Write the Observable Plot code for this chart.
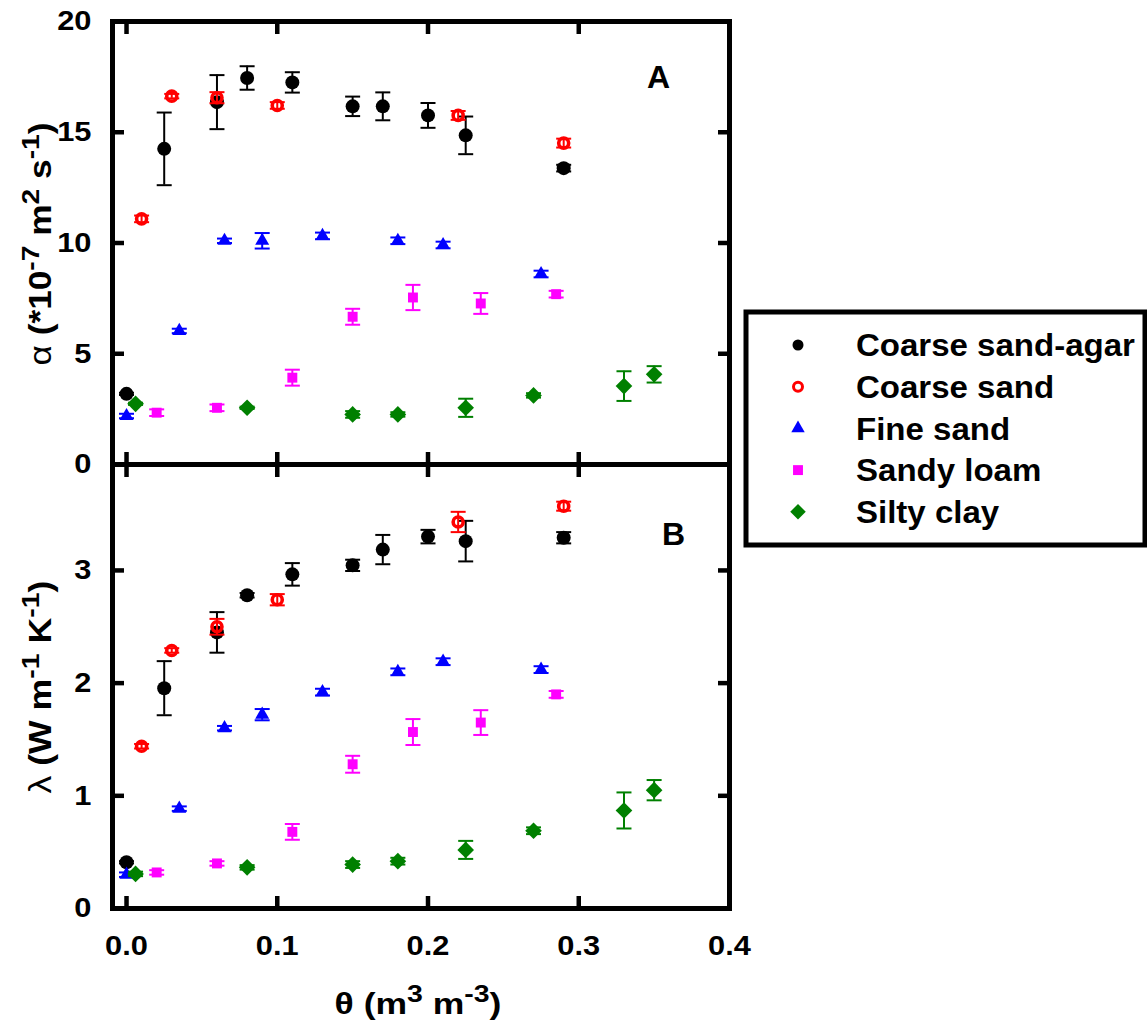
<!DOCTYPE html>
<html><head><meta charset="utf-8">
<script src="https://cdn.jsdelivr.net/npm/d3@7"></script>
<script src="https://cdn.jsdelivr.net/npm/@observablehq/plot@0.6"></script>
<style>
body{margin:0;background:#fff;}
#wrap{position:relative;width:1147px;height:1020px;overflow:hidden;font-family:"Liberation Sans",Arial,sans-serif;background:#fff;}
#wrap svg{position:absolute;overflow:visible;}
</style></head><body><div id="wrap"></div>
<script>
// ---- data ----
const seriesNames = ["Coarse sand-agar", "Coarse sand", "Fine sand", "Sandy loam", "Silty clay"];
const seriesColors = ["#000000", "#ff0000", "#0000ff", "#ff00ff", "#008000"];
const seriesSymbols = ["circle", "circle", "triangle", "square", "diamond2"];
const seriesFilled = [true, false, true, true, true];

// Coarse sand-agar
const agarTheta = [0, 0.025, 0.06, 0.08, 0.11, 0.15, 0.17, 0.2, 0.225, 0.29];
const agarAlpha = [3.19, 14.25, 16.36, 17.45, 17.25, 16.17, 16.17, 15.76, 14.86, 13.38];
const agarAlphaErr = [0.05, 1.64, 1.22, 0.53, 0.46, 0.44, 0.63, 0.56, 0.85, 0.15];
const agarLambda = [0.41, 1.955, 2.45, 2.78, 2.965, 3.045, 3.185, 3.30, 3.26, 3.29];
const agarLambdaErr = [0.01, 0.24, 0.18, 0.02, 0.10, 0.05, 0.13, 0.06, 0.18, 0.05];
// Coarse sand
const coarseTheta = [0.01, 0.03, 0.06, 0.1, 0.22, 0.29];
const coarseAlpha = [11.09, 16.63, 16.56, 16.21, 15.76, 14.51];
const coarseAlphaErr = [0.15, 0.1, 0.25, 0.15, 0.2, 0.2];
const coarseLambda = [1.44, 2.29, 2.50, 2.74, 3.43, 3.57];
const coarseLambdaErr = [0.02, 0.02, 0.07, 0.05, 0.09, 0.04];
// Fine sand
const fineTheta = [0, 0.035, 0.065, 0.09, 0.13, 0.18, 0.21, 0.275];
const fineAlpha = [2.19, 6.03, 10.1, 10.1, 10.32, 10.1, 9.91, 8.6];
const fineAlphaErr = [0.1, 0.1, 0.1, 0.35, 0.15, 0.15, 0.15, 0.15];
const fineLambda = [0.30, 0.886, 1.60, 1.72, 1.92, 2.10, 2.19, 2.12];
const fineLambdaErr = [0.02, 0.02, 0.02, 0.05, 0.03, 0.03, 0.03, 0.03];
// Sandy loam
const loamTheta = [0.02, 0.06, 0.11, 0.15, 0.19, 0.235, 0.285];
const loamAlpha = [2.34, 2.56, 3.92, 6.67, 7.54, 7.27, 7.69];
const loamAlphaErr = [0.15, 0.15, 0.36, 0.36, 0.57, 0.47, 0.15];
const loamLambda = [0.32, 0.40, 0.68, 1.28, 1.566, 1.65, 1.90];
const loamLambdaErr = [0.02, 0.02, 0.07, 0.075, 0.115, 0.11, 0.03];
// Silty clay
const clayTheta = [0.006, 0.08, 0.15, 0.18, 0.225, 0.27, 0.33, 0.35];
const clayAlpha = [2.74, 2.56, 2.26, 2.26, 2.56, 3.12, 3.54, 4.07];
const clayAlphaErr = [0.05, 0.05, 0.15, 0.1, 0.41, 0.1, 0.67, 0.37];
const clayLambda = [0.307, 0.365, 0.39, 0.42, 0.52, 0.69, 0.87, 1.05];
const clayLambdaErr = [0.02, 0.02, 0.03, 0.03, 0.08, 0.03, 0.16, 0.09];

const xTicks = [0, 0.1, 0.2, 0.3];
const xTickLabels = [0, 0.1, 0.2, 0.3, 0.4];
const xDomain = [-0.0093, 0.4];
const alphaTicks = [0, 5, 10, 15, 20];
const alphaDomain = [0, 20];
const lambdaTicks = [0, 1, 2, 3];
const lambdaDomain = [0, 3.94];

// ---- build tables ----
function rows(name, theta, val, err) {
  return theta.map((t, i) => ({name, theta: t, v: val[i], lo: val[i] - err[i], hi: val[i] + err[i]}));
}
const alphaRows = [
  ...rows(seriesNames[0], agarTheta, agarAlpha, agarAlphaErr),
  ...rows(seriesNames[1], coarseTheta, coarseAlpha, coarseAlphaErr),
  ...rows(seriesNames[2], fineTheta, fineAlpha, fineAlphaErr),
  ...rows(seriesNames[3], loamTheta, loamAlpha, loamAlphaErr),
  ...rows(seriesNames[4], clayTheta, clayAlpha, clayAlphaErr)
];
const lambdaRows = [
  ...rows(seriesNames[0], agarTheta, agarLambda, agarLambdaErr),
  ...rows(seriesNames[1], coarseTheta, coarseLambda, coarseLambdaErr),
  ...rows(seriesNames[2], fineTheta, fineLambda, fineLambdaErr),
  ...rows(seriesNames[3], loamTheta, loamLambda, loamLambdaErr),
  ...rows(seriesNames[4], clayTheta, clayLambda, clayLambdaErr)
];

const markerR = [7, 5, 5.2, 5.6, 7.5];
const capSymbol = {draw(ctx, size) { const w = Math.sqrt(size / Math.PI); ctx.moveTo(-w, 0); ctx.lineTo(w, 0); }};

function seriesMarks(data) {
  const marks = [];
  seriesNames.forEach((s, i) => {
    const d = data.filter(r => r.name === s);
    const c = seriesColors[i];
    marks.push(Plot.dot(d, seriesFilled[i]
      ? {x: "theta", y: "v", symbol: seriesSymbols[i], r: markerR[i], fill: c, stroke: "none"}
      : {x: "theta", y: "v", symbol: seriesSymbols[i], r: markerR[i], fill: "none", stroke: c, strokeWidth: 3.6}));
    marks.push(Plot.ruleX(d, {x: "theta", y1: "lo", y2: "hi", stroke: c, strokeWidth: 2}));
    marks.push(Plot.dot(d, {x: "theta", y: "lo", symbol: capSymbol, r: 7.5, stroke: c, strokeWidth: 2, fill: "none"}));
    marks.push(Plot.dot(d, {x: "theta", y: "hi", symbol: capSymbol, r: 7.5, stroke: c, strokeWidth: 2, fill: "none"}));
  });
  return marks;
}

const FONT = "'Liberation Sans', Arial, sans-serif";
const tickW = 4.5;

function panel({data, yDomain, yTicks, height, marginTop, marginBottom, letter, ldx, ldy, bottomLabels}) {
  const marks = [
    ...seriesMarks(data),
    Plot.frame({stroke: "black", strokeWidth: 5}),
    Plot.axisY({ticks: yTicks, anchor: "left", tickSize: -12, tickPadding: 33, strokeWidth: tickW,
      fontSize: 28, fontWeight: "bold", label: null, tickFormat: d => String(d)}),
    Plot.axisY({ticks: yTicks, anchor: "right", tickSize: -12, strokeWidth: tickW, tickFormat: () => "", label: null}),
    Plot.axisX({ticks: xTicks, anchor: "top", tickSize: -12, strokeWidth: tickW, tickFormat: () => "", label: null}),
    Plot.axisX({ticks: xTicks, anchor: "bottom", tickSize: -12, strokeWidth: tickW, tickFormat: () => "", label: null}),
    Plot.text([letter], {frameAnchor: "top-right", text: d => d, dx: ldx, dy: ldy, fontSize: 32, fontWeight: "bold", textAnchor: "middle", lineAnchor: "middle"})
  ];
  if (bottomLabels) {
    marks.push(Plot.axisX({ticks: xTickLabels, anchor: "bottom", tickSize: 0, tickPadding: 27,
      tickFormat: d3.format(".1f"), fontSize: 28, fontWeight: "bold", label: null}));
  }
  return Plot.plot({
    width: 760, height, marginLeft: 112, marginRight: 31, marginTop, marginBottom,
    x: {domain: xDomain},
    y: {domain: yDomain},
    style: {overflow: "visible", background: "transparent", fontFamily: FONT, color: "black"},
    marks
  });
}

const wrap = document.getElementById("wrap");
const pA = panel({data: alphaRows, yDomain: alphaDomain, yTicks: alphaTicks, height: 464, marginTop: 21, marginBottom: 0,
  letter: "A", ldx: -71, ldy: 56, bottomLabels: false});
pA.style.left = "0px"; pA.style.top = "0px";
wrap.appendChild(pA);
const pB = panel({data: lambdaRows, yDomain: lambdaDomain, yTicks: lambdaTicks, height: 556, marginTop: 0, marginBottom: 112,
  letter: "B", ldx: -56, ldy: 70, bottomLabels: true});
pB.style.left = "0px"; pB.style.top = "464px";
wrap.appendChild(pB);

// widen tick labels slightly (reference glyphs are horizontally stretched)
[pA, pB].forEach(svg => {
  d3.select(svg).selectAll("g[aria-label$='tick label'] text").each(function() {
    const tr = this.getAttribute("transform") || "";
    this.setAttribute("transform", tr + " scale(1.1,1)");
  });
});

// ---- titles & legend overlay ----
const ov = d3.select(wrap).append("svg").attr("width", 1147).attr("height", 1020)
  .style("left", "0px").style("top", "0px").style("font-family", FONT);

function richText(base, parts, size, length) {
  const g = ov.append("g").attr("transform", base);
  const t = g.append("text").attr("font-size", size).attr("font-weight", "bold").attr("fill", "black")
    .attr("text-anchor", "middle");
  let sup = false;
  parts.forEach(p => {
    const ts = t.append("tspan").text(p.t);
    if (p.normal) ts.attr("font-weight", "normal");
    if (p.sup && !sup) { ts.attr("dy", -0.4 * size).attr("font-size", size * 0.8); sup = true; }
    else if (p.sup) { ts.attr("font-size", size * 0.8); }
    else if (!p.sup && sup) { ts.attr("dy", 0.4 * size); sup = false; }
  });
  const w = t.node().getBBox().width;
  g.attr("transform", `${base} scale(${length / w},1)`);
  return t;
}
const yTitleA = [{t: "α", normal: true}, {t: " (*10"}, {t: "-7", sup: true}, {t: " m"}, {t: "2", sup: true}, {t: " s"}, {t: "-1", sup: true}, {t: ")"}];
const yTitleB = [{t: "λ", normal: true}, {t: " (W m"}, {t: "-1", sup: true}, {t: " K"}, {t: "-1", sup: true}, {t: ")"}];
const xTitle = [{t: "θ"}, {t: " (m"}, {t: "3", sup: true}, {t: " m"}, {t: "-3", sup: true}, {t: ")"}];

richText("translate(51,244) rotate(-90)", yTitleA, 31, 243);
richText("translate(51,687) rotate(-90)", yTitleB, 31, 213);
richText("translate(418,1014)", xTitle, 30, 167);

// legend
const lg = ov.append("g");
lg.append("rect").attr("x", 746).attr("y", 312).attr("width", 399).attr("height", 233)
  .attr("fill", "white").attr("stroke", "black").attr("stroke-width", 5);
const legR = [5.5, 4.5, 5, 5.6, 7];
const symMap = {circle: d3.symbolCircle, triangle: d3.symbolTriangle, square: d3.symbolSquare, diamond2: d3.symbolDiamond2};
seriesNames.forEach((s, i) => {
  const cy = 345 + i * 41.7;
  const path = d3.symbol(symMap[seriesSymbols[i]], Math.PI * legR[i] * legR[i])();
  lg.append("path").attr("d", path).attr("transform", `translate(798,${cy})`)
    .attr("fill", seriesFilled[i] ? seriesColors[i] : "none")
    .attr("stroke", seriesFilled[i] ? "none" : seriesColors[i]).attr("stroke-width", 3);
  const t = lg.append("text").attr("x", 856).attr("y", cy).attr("dy", "0.36em").attr("font-size", 31)
    .attr("font-weight", "bold").text(s);
  const L = t.node().getComputedTextLength();
  t.attr("textLength", L * 1.065).attr("lengthAdjust", "spacingAndGlyphs");
});
</script></body></html>
